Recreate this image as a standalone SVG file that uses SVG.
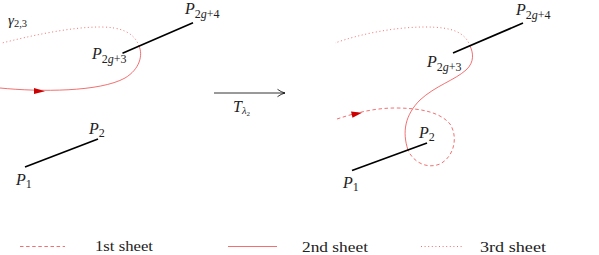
<svg xmlns="http://www.w3.org/2000/svg" width="599" height="255" viewBox="0 0 599 255">
<style>
.t{font-family:'Liberation Serif','DejaVu Serif',serif;fill:#222}
.i{font-style:italic}
.seg{stroke:#000;stroke-width:1.7;stroke-linecap:butt}
.red{fill:none;stroke:#ee4040;stroke-width:0.75}
.dash{stroke-dasharray:3.5 2.6}
.dot{stroke-dasharray:1 2.6}
.ah{fill:#cc0000}
.lg{font-size:15px}
</style>
<rect width="599" height="255" fill="#fff"/>
<g id="connectors">
  <path class="red" d="M0,88 C40,92 100,92 125,78 C140,69 143,55 139,46"/>
  <path class="red dot" d="M139,46 C134,32 120,27 100,27 C70,27 30,36 2,43"/>
  <polygon class="ah" points="34,88 45,91.3 34,94"/>
  <path class="red dash" d="M337,119 C355,113 375,108 395,108 C420,108 440,112 450,124 C458,136 455,156 440,164 C425,170 412,160 408,150"/>
  <path class="red" d="M408,150 C402,132 405,115 420,100 C435,86 455,80 466,70 C475,62 473,52 470,46"/>
  <path class="red dot" d="M470,46 C465,32 452,27 425,27 C395,27 360,34 335,43"/>
  <polygon class="ah" points="351,111.5 352.5,117.8 362,112.8"/>
  <line x1="214" y1="93" x2="285" y2="93" stroke="#000" stroke-width="0.8"/>
  <path d="M277.5,89.3 Q281,92 285,93 Q281,94 277.5,96.7" fill="none" stroke="#000" stroke-width="0.8"/>
</g>
<g id="left-panel">
  <line class="seg" x1="122.5" y1="53.3" x2="193" y2="22.7"/>
  <line class="seg" x1="25" y1="167" x2="98" y2="139"/>
  <text class="t" x="8" y="25" font-size="15"><tspan class="i">γ</tspan><tspan dy="2" font-size="10.5">2,3</tspan></text>
  <text class="t" x="92" y="59" font-size="16"><tspan class="i">P</tspan><tspan dy="4" font-size="12">2<tspan class="i">g</tspan>+3</tspan></text>
  <text class="t" x="185" y="14" font-size="16"><tspan class="i">P</tspan><tspan dy="4" font-size="12">2<tspan class="i">g</tspan>+4</tspan></text>
  <text class="t" x="89" y="134" font-size="16"><tspan class="i">P</tspan><tspan dy="3" font-size="12">2</tspan></text>
  <text class="t" x="16" y="185" font-size="16"><tspan class="i">P</tspan><tspan dy="3" font-size="12">1</tspan></text>
</g>
<g id="transform-label">
  <text class="t" x="233" y="112" font-size="16"><tspan class="i">T</tspan><tspan class="i" dy="2" font-size="10.5">λ</tspan><tspan dy="1.5" font-size="7">2</tspan></text>
</g>
<g id="right-panel">
  <line class="seg" x1="453" y1="53" x2="523" y2="23"/>
  <line class="seg" x1="352" y1="170.5" x2="427" y2="143"/>
  <text class="t" x="427" y="67" font-size="16"><tspan class="i">P</tspan><tspan dy="4" font-size="12">2<tspan class="i">g</tspan>+3</tspan></text>
  <text class="t" x="516" y="15" font-size="16"><tspan class="i">P</tspan><tspan dy="4" font-size="12">2<tspan class="i">g</tspan>+4</tspan></text>
  <text class="t" x="419" y="138" font-size="16"><tspan class="i">P</tspan><tspan dy="3" font-size="12">2</tspan></text>
  <text class="t" x="343" y="188" font-size="16"><tspan class="i">P</tspan><tspan dy="3" font-size="12">1</tspan></text>
</g>
<g id="legend">
  <line class="red dash" x1="20" y1="246.5" x2="65" y2="246.5"/>
  <text class="t lg" x="95" y="251" textLength="58" lengthAdjust="spacingAndGlyphs">1st sheet</text>
  <line class="red" x1="228" y1="246.5" x2="277" y2="246.5"/>
  <text class="t lg" x="302" y="252" textLength="66" lengthAdjust="spacingAndGlyphs">2nd sheet</text>
  <line class="red dot" x1="421" y1="246.5" x2="463" y2="246.5"/>
  <text class="t lg" x="480" y="252" textLength="66" lengthAdjust="spacingAndGlyphs">3rd sheet</text>
</g>
</svg>
